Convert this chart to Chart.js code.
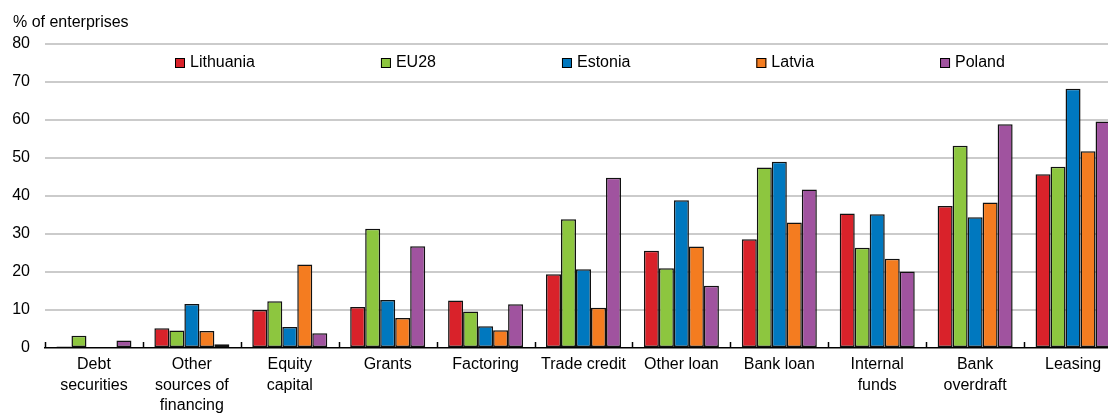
<!DOCTYPE html>
<html>
<head>
<meta charset="utf-8">
<script src="https://cdn.jsdelivr.net/npm/chart.js@4/dist/chart.umd.min.js"></script>
<style>
  html, body { margin: 0; padding: 0; overflow: hidden; background: #fff; }
  canvas { display: block; }
</style>
</head>
<body>
<canvas id="chart" width="1122" height="425"></canvas>
<script>
const categories = [
  ["Debt", "securities"],
  ["Other", "sources of", "financing"],
  ["Equity", "capital"],
  "Grants",
  "Factoring",
  "Trade credit",
  "Other loan",
  "Bank loan",
  ["Internal", "funds"],
  ["Bank", "overdraft"],
  "Leasing"
];
const countries = ["Lithuania", "EU28", "Estonia", "Latvia", "Poland"];
const lithuania = [0.4, 5.2, 10.0, 10.8, 12.5, 19.4, 25.6, 28.6, 35.4, 37.4, 45.7];
const eu28 = [3.2, 4.6, 12.3, 31.4, 9.6, 33.9, 21.0, 47.5, 26.4, 53.2, 47.7];
const estonia = [0, 11.6, 5.5, 12.6, 5.7, 20.7, 38.9, 49.0, 35.2, 34.4, 68.2];
const latvia = [0, 4.5, 22.0, 7.9, 4.7, 10.6, 26.7, 33.0, 23.5, 38.3, 51.8];
const poland = [2.0, 1.0, 3.9, 26.8, 11.5, 44.8, 16.4, 41.7, 20.1, 58.9, 59.6];
const colors = ["#d9222a", "#8dc63f", "#0078bf", "#f47c20", "#a0539f"];
const yTicks = [0, 10, 20, 30, 40, 50, 60, 70, 80];

const FONT = "'Liberation Sans', Arial, sans-serif";
const series = [lithuania, eu28, estonia, latvia, poland];

// legend, axis note and category tick marks drawn by hand
const extras = {
  id: "extras",
  afterDraw(chart) {
    const ctx = chart.ctx;
    const x = chart.scales.x;
    ctx.save();
    ctx.font = "16px " + FONT;
    ctx.fillStyle = "#000";
    ctx.textBaseline = "middle";
    ctx.fillText("% of enterprises", 13, 23);

    // small ticks between categories, pointing up
    const step = x.width / categories.length;
    ctx.strokeStyle = "#000";
    ctx.lineWidth = 1.5;
    for (let i = 0; i <= categories.length; i++) {
      const px = Math.round(x.left + i * step) + 0.5;
      ctx.beginPath();
      ctx.moveTo(px, x.top);
      ctx.lineTo(px, x.top - 6);
      ctx.stroke();
    }

    // legend
    let lx = 175;
    const ly = 63;
    countries.forEach((name, i) => {
      ctx.fillStyle = colors[i];
      ctx.fillRect(lx, ly - 5, 10, 10);
      ctx.strokeStyle = "#000";
      ctx.lineWidth = 1;
      ctx.strokeRect(lx + 0.5, ly - 4.5, 9, 9);
      ctx.fillStyle = "#000";
      ctx.fillText(name, lx + 15, ly);
      lx += 15 + ctx.measureText(name).width + 126;
    });
    ctx.restore();
  }
};

new Chart(document.getElementById("chart"), {
  type: "bar",
  data: {
    labels: categories,
    datasets: countries.map((name, i) => ({
      label: name,
      data: series[i],
      backgroundColor: colors[i],
      borderColor: "#111",
      borderWidth: 1.5,
      borderSkipped: false,
      inflateAmount: 0,
      categoryPercentage: 0.766,
      barPercentage: 1.0
    }))
  },
  options: {
    responsive: false,
    animation: false,
    devicePixelRatio: 1,
    layout: { padding: { top: 44, left: 0, right: 0, bottom: 0 } },
    plugins: {
      legend: { display: false },
      tooltip: { enabled: false }
    },
    scales: {
      x: {
        grid: { display: false, drawTicks: false },
        border: { display: true, color: "#000", width: 1.5 },
        ticks: {
          color: "#000",
          font: { family: FONT, size: 16, lineHeight: 1.3 },
          padding: 6,
          maxRotation: 0,
          autoSkip: false
        },
        afterFit(scale) { scale.height = 77; }
      },
      y: {
        min: 0,
        max: 80,
        afterBuildTicks(scale) { scale.ticks = yTicks.map(v => ({ value: v })); },
        grid: {
          color: ctx => (ctx.tick && ctx.tick.value === 0 ? "rgba(0,0,0,0)" : "#cbcbcb"),
          lineWidth: 2,
          drawTicks: false
        },
        border: { display: false },
        ticks: {
          color: "#000",
          font: { family: FONT, size: 16 },
          padding: 15
        },
        afterFit(scale) { scale.width = 45; }
      }
    }
  },
  plugins: [extras]
});
</script>
</body>
</html>
